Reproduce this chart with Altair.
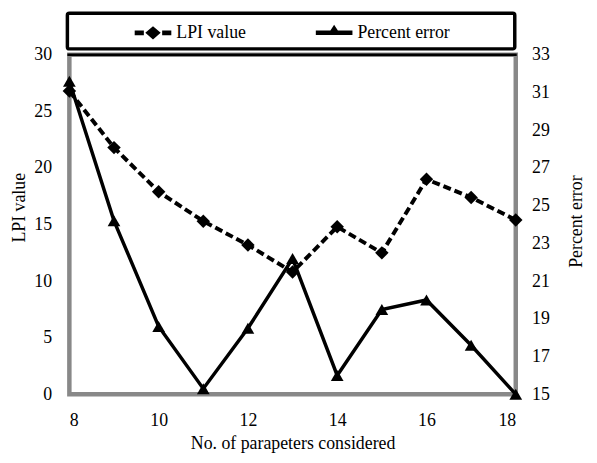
import altair as alt
import pandas as pd

# ---- data ----
params = [8, 9, 10, 11, 12, 13, 14, 15, 16, 17, 18]
lpi_value = [26.8, 21.8, 17.9, 15.3, 13.2, 10.8, 14.8, 12.5, 19.0, 17.4, 15.4]
percent_error = [31.6, 24.2, 18.6, 15.3, 18.5, 22.2, 16.0, 19.5, 20.0, 17.6, 15.0]
series = ["LPI value", "Percent error"]
lpi_ticks = [0, 5, 10, 15, 20, 25, 30]
pct_ticks = [15, 17, 19, 21, 23, 25, 27, 29, 31, 33]
x_ticks = [8, 10, 12, 14, 16, 18]

FONT = "Liberation Serif"
FS = 18
W, H = 451, 343

df_lpi = pd.DataFrame({"n": params, "v": lpi_value})
df_pct = pd.DataFrame({"n": params, "v": percent_error})
df_leg = pd.DataFrame({"s": series})

x_enc = alt.X(
    "n:Q",
    scale=alt.Scale(domain=[8, 18], nice=False, zero=False),
    axis=alt.Axis(
        values=x_ticks, grid=False, ticks=False, domain=False,
        labelPadding=32, labelBaseline="alphabetic",
        title="No. of parapeters considered",
        titleBaseline="alphabetic", titleY=55,
    ),
)

base_lpi = alt.Chart(df_lpi).encode(
    x=x_enc,
    y=alt.Y(
        "v:Q",
        scale=alt.Scale(domain=[0, 30], nice=False),
        axis=alt.Axis(
            orient="left", values=lpi_ticks, grid=False, ticks=False, domain=False,
            labelPadding=18, title="LPI value", titleAngle=270,
            titleBaseline="alphabetic", titleX=-45, titleY=154,
        ),
    ),
)
lpi_layer = alt.layer(
    base_lpi.mark_line(color="black", strokeWidth=4, strokeDash=[8, 4]),
    base_lpi.mark_point(shape="diamond", filled=True, color="black", size=185, opacity=1),
)

base_pct = alt.Chart(df_pct).encode(
    x=x_enc,
    y=alt.Y(
        "v:Q",
        scale=alt.Scale(domain=[15, 33], nice=False, zero=False),
        axis=alt.Axis(
            orient="right", values=pct_ticks, grid=False, ticks=False, domain=False,
            labelPadding=16, title="Percent error", titleAngle=270,
            titleBaseline="alphabetic", titleX=66, titleY=168,
        ),
    ),
)
pct_layer = alt.layer(
    base_pct.mark_line(color="black", strokeWidth=3.5),
    base_pct.mark_point(shape="triangle-up", filled=True, color="black", size=165, opacity=1),
)

# legend symbols: line + marker drawn as one custom path
sym_lpi = ("M-1,-0.13H-0.5V0.13H-1Z "
           "M-0.42,0L0,-0.36L0.42,0L0,0.36Z "
           "M0.5,-0.13H1V0.13H0.5Z")
sym_pct = ("M-1,-0.12H1V0.12H-1Z "
           "M-0.32,0.05L0,-0.44L0.32,0.05Z")

legend_layer = alt.Chart(df_leg).mark_point(filled=True, color="black", opacity=1).encode(
    shape=alt.Shape(
        "s:N",
        scale=alt.Scale(domain=series, range=[sym_lpi, sym_pct]),
        legend=alt.Legend(
            title=None, orient="none", direction="horizontal",
            legendX=66, legendY=-41, padding=0,
            symbolSize=1369, symbolStrokeWidth=0, symbolFillColor="black",
            symbolOpacity=1, labelOffset=5, columnPadding=70,
            labelFont=FONT, labelFontSize=FS, labelColor="black",
        ),
    )
).transform_filter("false")

box = alt.Chart(alt.Data(values=[{}])).mark_rect(
    fill="white", stroke="black", strokeWidth=3.5, cornerRadius=2
).encode(x=alt.value(-2), x2=alt.value(450), y=alt.value(-42), y2=alt.value(-6))

top_rule = alt.Chart(alt.Data(values=[{}])).mark_rule(
    color="black", strokeWidth=2.5
).encode(x=alt.value(-2), x2=alt.value(452), y=alt.value(0))

chart = (
    alt.layer(box, top_rule, lpi_layer, pct_layer, legend_layer)
    .resolve_scale(y="independent", shape="independent")
    .properties(
        width=W, height=H,
        padding={"left": 62, "top": 45, "right": 74, "bottom": 59},
        autosize=alt.AutoSizeParams(type="none"),
        background="white",
    )
    .configure_view(stroke="#888888", strokeWidth=4.5)
    .configure_axis(
        labelFont=FONT, labelFontSize=FS, labelColor="black",
        titleFont=FONT, titleFontSize=FS, titleColor="black", titleFontWeight="normal",
    )
)

chart.save("out.html", embed_options={"renderer": "svg", "actions": False})
